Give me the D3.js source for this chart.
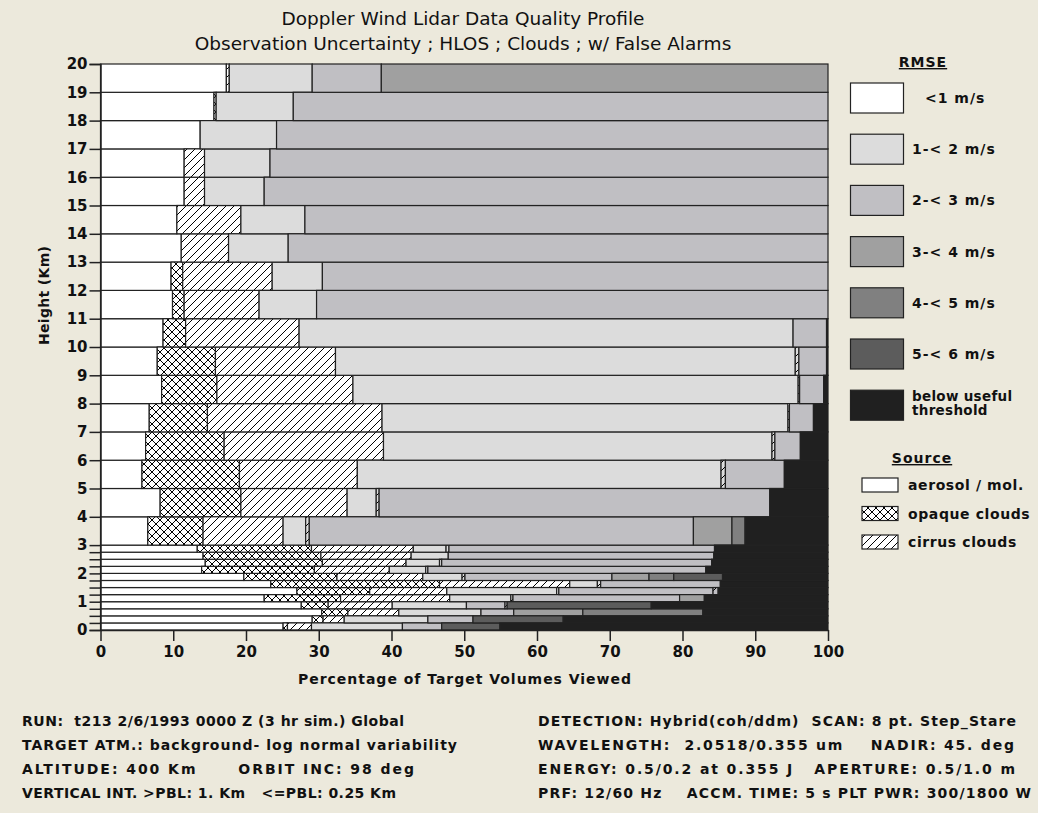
<!DOCTYPE html>
<html>
<head>
<meta charset="UTF-8">
<script src="https://d3js.org/d3.v7.min.js"></script>
<style>
  body { margin: 0; background: #ece9dc; }
  svg { display: block; font-family: "DejaVu Sans", sans-serif; }
  .bold { font-weight: bold; font-size: 14px; letter-spacing: 1px; fill: #111; }
</style>
</head>
<body>
<svg id="chart" width="1038" height="813"></svg>
<script>
// rows from bottom (0-0.25 km) to top (19-20 km)
const rowBottoms = [0, 0.25, 0.5, 0.75, 1, 1.25, 1.5, 1.75, 2, 2.25, 2.5, 2.75,
  3, 4, 5, 6, 7, 8, 9, 10, 11, 12, 13, 14, 15, 16, 17, 18, 19];
const rowTops = [0.25, 0.5, 0.75, 1, 1.25, 1.5, 1.75, 2, 2.25, 2.5, 2.75, 3,
  4, 5, 6, 7, 8, 9, 10, 11, 12, 13, 14, 15, 16, 17, 18, 19, 20];

// percentage of target volumes per rmse class / source
const aer0 = [25.1, 29.1, 30.4, 27.6, 22.5, 27.0, 23.4, 19.7, 13.9, 14.4, 14.1, 13.3,
  6.5, 8.2, 5.7, 6.2, 6.7, 8.4, 7.8, 8.6, 9.9, 9.7, 11.1, 10.5, 11.5, 11.5, 13.7, 15.6, 17.3];
const opq0 = [0.6, 1.5, 3.6, 3.7, 10.5, 10.0, 23.2, 12.8, 15.5, 16.1, 16.2, 15.7,
  7.6, 11.1, 13.4, 10.8, 8.0, 7.6, 8.0, 3.1, 1.6, 1.6, 0, 0, 0, 0, 0, 0.3, 0];
const cir0 = [3.3, 2.9, 7.0, 8.8, 15.0, 10.6, 17.9, 11.8, 10.3, 11.5, 12.4, 14.0,
  11.0, 14.6, 16.2, 21.9, 24.0, 18.7, 16.5, 15.6, 10.3, 12.3, 6.5, 8.8, 2.8, 2.8, 0, 0, 0.4];
const aer1 = [12.5, 11.5, 11.3, 10.2, 8.4, 15.1, 3.8, 5.4, 5.0, 4.6, 5.1, 4.5,
  3.1, 4.0, 50.0, 53.4, 55.8, 61.2, 63.2, 67.9, 7.9, 6.9, 8.2, 8.8, 8.2, 9.0, 10.5, 10.6, 11.4];
const cld1 = [0, 0, 0, 0, 0.3, 0.3, 0.45, 0.4, 0.3, 0.3, 0, 0.4,
  0.5, 0.4, 0.6, 0.4, 0.2, 0.2, 0.5, 0, 0, 0, 0, 0, 0, 0, 0, 0, 0];
const aer2 = [5.4, 6.2, 4.5, 5.3, 22.9, 21.2, 16.45, 20.2, 38.2, 37.1, 36.5, 36.5,
  52.8, 53.7, 8.1, 3.5, 3.3, 3.3, 3.8, 4.6, 70.3, 69.5, 74.2, 71.9, 77.5, 76.7, 75.8, 73.5, 9.5];
const cld2 = [0, 0, 0, 0.3, 0, 0.7, 0, 0, 0, 0, 0, 0,
  0, 0, 0, 0, 0, 0, 0, 0, 0, 0, 0, 0, 0, 0, 0, 0, 0];
const aer3 = [0, 0, 9.5, 0, 3.4, 0, 0, 5.1, 0, 0, 0, 0,
  5.3, 0, 0, 0, 0, 0, 0, 0, 0, 0, 0, 0, 0, 0, 0, 0, 61.4];
const aer4 = [0, 0, 16.5, 0, 0, 0, 0, 3.4, 0, 0, 0, 0,
  1.8, 0, 0, 0, 0, 0, 0, 0, 0, 0, 0, 0, 0, 0, 0, 0, 0];
const aer5 = [8.0, 12.4, 0, 19.8, 0, 0, 0, 6.7, 0, 0, 0, 0,
  0, 0, 0, 0, 0, 0, 0, 0, 0, 0, 0, 0, 0, 0, 0, 0, 0];
const below = [45.1, 36.4, 17.2, 24.3, 17.0, 15.1, 14.8, 14.5, 16.8, 16.0, 15.7, 15.6,
  11.4, 8.0, 6.0, 3.8, 2.0, 0.6, 0.2, 0.2, 0, 0, 0, 0, 0, 0, 0, 0, 0];

const xTicks = [0, 10, 20, 30, 40, 50, 60, 70, 80, 90, 100];
const rmseLabels = ["<1 m/s", "1-< 2 m/s", "2-< 3 m/s", "3-< 4 m/s", "4-< 5 m/s", "5-< 6 m/s", "below useful|threshold"];
const sourceLabels = ["aerosol / mol.", "opaque clouds", "cirrus clouds"];
const infoLeft = [
  "RUN:  t213 2/6/1993 0000 Z (3 hr sim.) Global",
  "TARGET ATM.: background- log normal variability",
  "ALTITUDE: 400 Km      ORBIT INC: 98 deg",
  "VERTICAL INT. >PBL: 1. Km   <=PBL: 0.25 Km"
];
const infoRight = [
  "DETECTION: Hybrid(coh/ddm)  SCAN: 8 pt. Step_Stare",
  "WAVELENGTH:  2.0518/0.355 um    NADIR: 45. deg",
  "ENERGY: 0.5/0.2 at 0.355 J   APERTURE: 0.5/1.0 m",
  "PRF: 12/60 Hz    ACCM. TIME: 5 s PLT PWR: 300/1800 W"
];
// widths the info lines take in the picture
const infoLeftLen = [383, 436, 393, 375];
const infoRightLen = [479, 477, 478, 494];

const colors = ["#ffffff", "#dcdcdc", "#c0bfc3", "#a0a0a0", "#808080", "#5c5c5c", "#202020"];
const keys = ["aer0", "opq0", "cir0", "aer1", "cld1", "aer2", "cld2", "aer3", "aer4", "aer5", "below"];
const cols = { aer0, opq0, cir0, aer1, cld1, aer2, cld2, aer3, aer4, aer5, below };
const fills = {
  aer0: colors[0], opq0: "url(#xh)", cir0: "url(#dg0)", aer1: colors[1], cld1: "url(#dg1)",
  aer2: colors[2], cld2: "url(#dg2)", aer3: colors[3], aer4: colors[4], aer5: colors[5], below: colors[6]
};

const rows = rowBottoms.map((b, i) => {
  const r = { bottom: b, top: rowTops[i] };
  keys.forEach(k => r[k] = cols[k][i]);
  return r;
});

const svg = d3.select("#chart");
const x = d3.scaleLinear().domain([0, 100]).range([100.5, 828]);
const y = d3.scaleLinear().domain([0, 20]).range([630, 64]);

// patterns
const defs = svg.append("defs");
function hatch(id, bg, cross) {
  const p = defs.append("pattern").attr("id", id).attr("patternUnits", "userSpaceOnUse")
    .attr("width", 8).attr("height", 8);
  p.append("rect").attr("width", 8).attr("height", 8).attr("fill", bg);
  p.append("path").attr("d", "M0,8L8,0M-1,1L1,-1M7,9L9,7").attr("stroke", "#000").attr("stroke-width", 1);
  if (cross) p.append("path").attr("d", "M0,0L8,8M-1,7L1,9M7,-1L9,1").attr("stroke", "#000").attr("stroke-width", 1);
}
hatch("xh", "#fff", true);
hatch("dg0", "#fff", false);
hatch("dg1", colors[1], false);
hatch("dg2", colors[2], false);

// title
svg.append("text").attr("x", 463).attr("y", 25).attr("text-anchor", "middle")
  .style("font-size", "18.5px").attr("fill", "#111").text("Doppler Wind Lidar Data Quality Profile");
svg.append("text").attr("x", 463).attr("y", 50).attr("text-anchor", "middle")
  .style("font-size", "18.5px").attr("fill", "#111").text("Observation Uncertainty ; HLOS ; Clouds ; w/ False Alarms");

// bars
const series = d3.stack().keys(keys)(rows);
const g = svg.append("g");
series.forEach(s => {
  g.append("g").selectAll("rect")
    .data(s.filter(d => d[1] - d[0] > 0))
    .join("rect")
    .attr("x", d => x(d[0]))
    .attr("width", d => x(d[1]) - x(d[0]))
    .attr("y", d => y(d.data.top))
    .attr("height", d => y(d.data.bottom) - y(d.data.top))
    .attr("fill", fills[s.key])
    .attr("stroke", "#222")
    .attr("stroke-width", 1.2);
});

// axes
const yTicks = rowBottoms.concat([20]);
const yAxis = d3.axisLeft(y).tickValues(yTicks).tickSize(11).tickPadding(2)
  .tickFormat(d => Number.isInteger(d) ? d : "");
const ya = svg.append("g").attr("transform", "translate(100.5,0)").call(yAxis);
const xAxis = d3.axisBottom(x).tickValues(xTicks).tickSize(11).tickPadding(5).tickSizeOuter(0);
const xa = svg.append("g").attr("transform", "translate(0,630)").call(xAxis);
[ya, xa].forEach(a => {
  a.selectAll("line, path").attr("stroke", "#222").attr("stroke-width", 1.5);
  a.selectAll("text").attr("class", "bold").style("font-size", "15px").style("letter-spacing", "0px")
    .style("font-family", "\"DejaVu Sans\", sans-serif");
});

svg.append("text").attr("class", "bold").attr("x", 465).attr("y", 684).attr("text-anchor", "middle")
  .attr("textLength", 334).text("Percentage of Target Volumes Viewed");
svg.append("text").attr("class", "bold").attr("transform", "translate(49,295) rotate(-90)")
  .attr("text-anchor", "middle").attr("textLength", 100).text("Height (Km)");

// legend
const lg = svg.append("g");
lg.append("text").attr("class", "bold").attr("x", 923).attr("y", 67).attr("text-anchor", "middle")
  .style("text-decoration", "underline").text("RMSE");
rmseLabels.forEach((t, i) => {
  const top = 83 + i * 51.2;
  lg.append("rect").attr("x", 850.5).attr("y", top).attr("width", 53).attr("height", 30)
    .attr("fill", colors[i]).attr("stroke", "#222").attr("stroke-width", 1.2);
  const parts = t.split("|");
  const tx = i === 0 ? 925 : 912;
  parts.forEach((p, j) => {
    lg.append("text").attr("class", "bold").attr("x", tx)
      .attr("y", top + (parts.length > 1 ? 11 + j * 14 : 20))
      .style("letter-spacing", parts.length > 1 ? "0.3px" : null)
      .style("font-size", parts.length > 1 ? "13.5px" : null)
      .text(p);
  });
});
lg.append("text").attr("class", "bold").attr("x", 922).attr("y", 463).attr("text-anchor", "middle")
  .style("text-decoration", "underline").text("Source");
const srcFills = ["#fff", "url(#xh)", "url(#dg0)"];
sourceLabels.forEach((t, i) => {
  const top = 478 + i * 28.5;
  lg.append("rect").attr("x", 862).attr("y", top).attr("width", 36).attr("height", 14)
    .attr("fill", srcFills[i]).attr("stroke", "#222").attr("stroke-width", 1.2);
  lg.append("text").attr("class", "bold").attr("x", 908).attr("y", top + 12)
    .style("letter-spacing", "0.6px").text(t);
});

// run info
const info = svg.append("g");
infoLeft.forEach((t, i) => {
  info.append("text").attr("class", "bold").attr("x", 22).attr("y", 726 + i * 24)
    .attr("xml:space", "preserve").attr("textLength", infoLeftLen[i]).text(t);
});
infoRight.forEach((t, i) => {
  info.append("text").attr("class", "bold").attr("x", 538).attr("y", 726 + i * 24)
    .attr("xml:space", "preserve").attr("textLength", infoRightLen[i]).text(t);
});
</script>
</body>
</html>
